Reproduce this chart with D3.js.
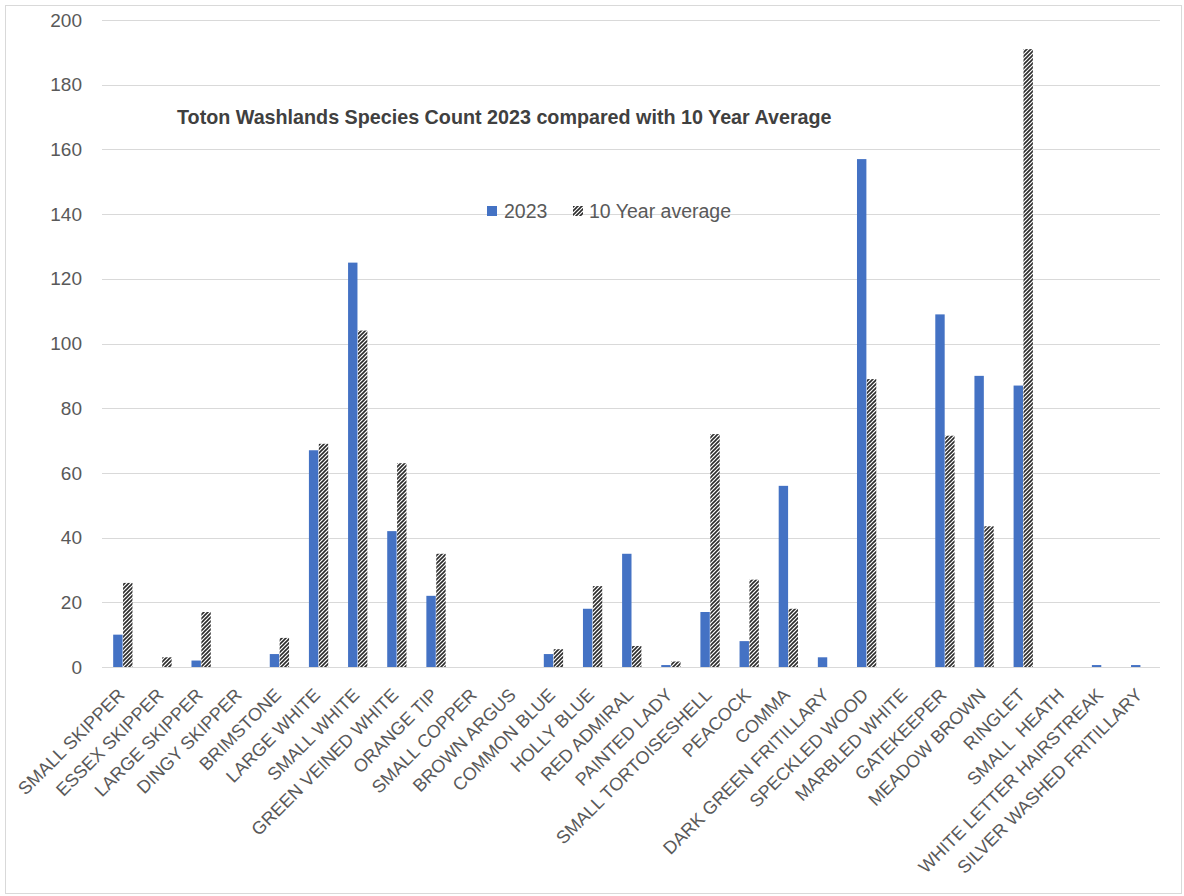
<!DOCTYPE html>
<html>
<head>
<meta charset="utf-8">
<script src="https://cdn.jsdelivr.net/npm/d3@7"></script>
<style>
  html, body { margin: 0; padding: 0; background: #ffffff; }
  svg { display: block; }
</style>
</head>
<body>
<div id="chart"></div>
<script>
const categories = [
  "SMALL SKIPPER", "ESSEX SKIPPER", "LARGE SKIPPER", "DINGY SKIPPER", "BRIMSTONE",
  "LARGE WHITE", "SMALL WHITE", "GREEN VEINED WHITE", "ORANGE TIP", "SMALL COPPER",
  "BROWN ARGUS", "COMMON BLUE", "HOLLY BLUE", "RED ADMIRAL", "PAINTED LADY",
  "SMALL TORTOISESHELL", "PEACOCK", "COMMA", "DARK GREEN FRITILLARY", "SPECKLED WOOD",
  "MARBLED WHITE", "GATEKEEPER", "MEADOW BROWN", "RINGLET", "SMALL  HEATH",
  "WHITE LETTER HAIRSTREAK", "SILVER WASHED FRITILLARY"
];
const values2023 = [10, 0, 2, 0, 4, 67, 125, 42, 22, 0, 0, 4, 18, 35, 0.6, 17, 8, 56, 3, 157, 0, 109, 90, 87, 0, 0.6, 0.6];
const values10Year = [26, 3, 17, 0, 9, 69, 104, 63, 35, 0, 0, 5.5, 25, 6.5, 1.7, 72, 27, 18, 0, 89, 0, 71.5, 43.5, 191, 0, 0, 0];
const yTicks = [0, 20, 40, 60, 80, 100, 120, 140, 160, 180, 200];
const seriesNames = ["2023", "10 Year average"];
const titleText = "Toton Washlands Species Count 2023 compared with 10 Year Average";

const W = 1184, H = 896;
const FONT = "Liberation Sans, Arial, sans-serif";
const svg = d3.select("#chart").append("svg").attr("width", W).attr("height", H);

const defs = svg.append("defs");
const pat = defs.append("pattern")
  .attr("id", "hatch").attr("patternUnits", "userSpaceOnUse")
  .attr("width", 4).attr("height", 4);
pat.append("rect").attr("width", 4).attr("height", 4).attr("fill", "#ffffff");
pat.append("path").attr("d", "M-1,1 L1,-1 M0,4 L4,0 M3,5 L5,3")
  .attr("stroke", "#2b2b2b").attr("stroke-width", 1.6);

// outer border
svg.append("rect").attr("x", 5.5).attr("y", 5.5).attr("width", 1176).attr("height", 888)
  .attr("fill", "#ffffff").attr("stroke", "#d9d9d9").attr("stroke-width", 1);

const plotL = 103, plotR = 1160, plotT = 20, plotB = 667;
const x = d3.scaleBand().domain(categories).range([plotL, plotR]).padding(0);
const y = d3.scaleLinear().domain([0, 200]).range([plotB, plotT]);
const bw = x.bandwidth();
const barW = bw * 0.24;

// gridlines
svg.append("g").selectAll("line").data(yTicks).join("line")
  .attr("x1", plotL - 1).attr("x2", plotR)
  .attr("y1", d => Math.round(y(d)) + 0.5).attr("y2", d => Math.round(y(d)) + 0.5)
  .attr("stroke", "#d9d9d9").attr("stroke-width", 1.2);

// y tick labels
svg.append("g").selectAll("text").data(yTicks).join("text")
  .attr("x", 82).attr("y", d => y(d))
  .attr("dy", "0.35em").attr("text-anchor", "end")
  .attr("font-family", FONT).attr("font-size", 19)
  .attr("fill", "#595959").text(d => d);

// bars
const gBars = svg.append("g");
gBars.selectAll("rect.s1").data(categories).join("rect").attr("class", "s1")
  .attr("x", (d) => x(d) + bw / 2 - barW)
  .attr("width", barW)
  .attr("y", (d, i) => y(values2023[i]))
  .attr("height", (d, i) => y(0) - y(values2023[i]))
  .attr("fill", "#4472c4");
gBars.selectAll("rect.s2").data(categories).join("rect").attr("class", "s2")
  .attr("x", (d) => x(d) + bw / 2 + 0.5)
  .attr("width", barW)
  .attr("y", (d, i) => y(values10Year[i]))
  .attr("height", (d, i) => y(0) - y(values10Year[i]))
  .attr("fill", "url(#hatch)");

// x labels
svg.append("g").selectAll("text").data(categories).join("text")
  .attr("transform", d => `translate(${x(d) + bw / 2 + 3},${696}) rotate(-45)`)
  .attr("text-anchor", "end")
  .attr("font-family", FONT).attr("font-size", 18)
  .attr("fill", "#595959")
  .attr("xml:space", "preserve")
  .style("white-space", "pre")
  .text(d => d);

// title
const title = svg.append("text").attr("x", 177).attr("y", 124)
  .attr("font-family", FONT).attr("font-weight", "bold")
  .attr("font-size", 16).attr("fill", "#404040").text(titleText);
const tw = title.node().getComputedTextLength();
title.attr("font-size", 16 * 655 / tw);

// legend
const lg = svg.append("g");
lg.append("rect").attr("x", 487).attr("y", 206).attr("width", 10).attr("height", 10).attr("fill", "#4472c4");
lg.append("text").attr("x", 504).attr("y", 218)
  .attr("font-family", FONT).attr("font-size", 19.5)
  .attr("fill", "#595959").text(seriesNames[0]);
lg.append("rect").attr("x", 573).attr("y", 206).attr("width", 10).attr("height", 10).attr("fill", "url(#hatch)");
lg.append("text").attr("x", 589).attr("y", 218)
  .attr("font-family", FONT).attr("font-size", 19.5)
  .attr("fill", "#595959").text(seriesNames[1]);
</script>
</body>
</html>
